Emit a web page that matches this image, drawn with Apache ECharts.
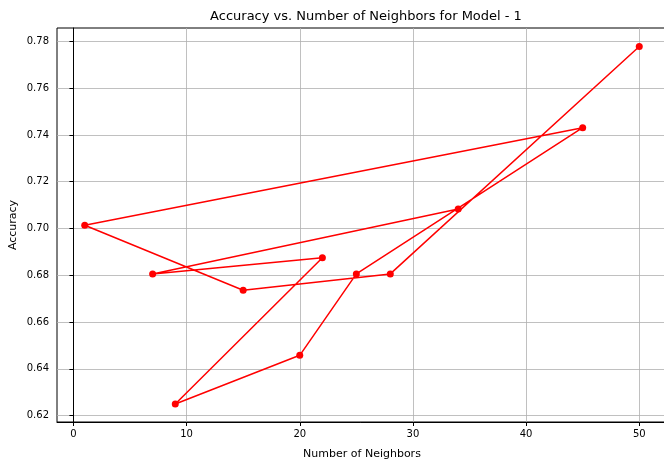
<!DOCTYPE html>
<html>
<head>
<meta charset="utf-8">
<script src="https://cdn.jsdelivr.net/npm/echarts@6/dist/echarts.min.js"></script>
<style>html,body{margin:0;padding:0;background:#fff}#c{width:664px;height:466px}</style>
</head>
<body>
<div id="c"></div>
<script>
const neighbors = [34, 7, 22, 9, 20, 25, 45, 1, 15, 28, 50];
const accuracy = [0.7083, 0.6806, 0.6875, 0.625, 0.6458, 0.6806, 0.7431, 0.7014, 0.6736, 0.6806, 0.7778];
const xTicks = [0, 10, 20, 30, 40, 50];
const yTicks = [0.62, 0.64, 0.66, 0.68, 0.70, 0.72, 0.74, 0.76, 0.78];

const font = 'DejaVu Sans';
const chart = echarts.init(document.getElementById('c'), null, {renderer: 'canvas'});
chart.setOption({
  animation: false,
  backgroundColor: '#fff',
  title: {
    text: 'Accuracy vs. Number of Neighbors for Model - 1',
    left: 361, top: 5, textAlign: 'center',
    textStyle: {fontFamily: font, fontSize: 13, fontWeight: 'normal', color: '#000'}
  },
  grid: {left: 57, width: 610, top: 28, bottom: 44, outerBoundsMode: 'none', containLabel: false,
    show: true, borderColor: '#000', borderWidth: 1, backgroundColor: 'transparent'},
  xAxis: {
    type: 'value', min: -1.45, max: 52.45,
    name: 'Number of Neighbors', nameLocation: 'middle', nameGap: 27, nameMoveOverlap: false,
    nameTextStyle: {fontFamily: font, fontSize: 11, color: '#000'},
    axisLine: {show: true, lineStyle: {color: '#000', width: 1}},
    axisTick: {show: true, length: 4, lineStyle: {color: '#000'}, customValues: xTicks},
    axisLabel: {fontFamily: font, fontSize: 10, color: '#000', margin: 7, customValues: xTicks},
    splitLine: {show: true, lineStyle: {color: '#b0b0b0', width: 0.8}}
  },
  yAxis: {
    type: 'value', min: 0.6173, max: 0.7857,
    name: 'Accuracy', nameLocation: 'middle', nameGap: 38, nameMoveOverlap: false,
    nameTextStyle: {fontFamily: font, fontSize: 11, color: '#000'},
    axisLine: {show: true, lineStyle: {color: '#000', width: 1}},
    axisTick: {show: true, length: 4, lineStyle: {color: '#000'}, customValues: yTicks},
    axisLabel: {fontFamily: font, fontSize: 10, color: '#000', margin: 8, customValues: yTicks,
      formatter: v => v.toFixed(2)},
    splitLine: {show: true, lineStyle: {color: '#b0b0b0', width: 0.8}}
  },
  series: [{
    type: 'line',
    data: neighbors.map((x, i) => [x, accuracy[i]]),
    color: '#ff0000',
    lineStyle: {color: '#ff0000', width: 1.5},
    itemStyle: {color: '#ff0000'},
    symbol: 'circle', symbolSize: 7, showSymbol: true
  }]
});
</script>
</body>
</html>
